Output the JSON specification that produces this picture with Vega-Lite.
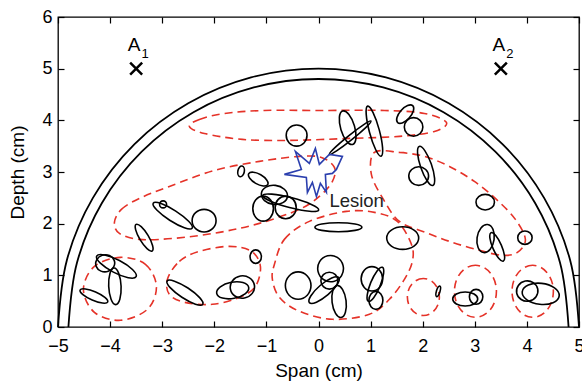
{
  "$schema": "https://vega.github.io/schema/vega-lite/v6.json",
  "width": 521,
  "height": 310,
  "autosize": {"type": "none"},
  "padding": {"left": 58, "top": 17, "right": 3, "bottom": 56},
  "background": "white",
  "config": {
    "view": {"stroke": "black", "strokeWidth": 1.3},
    "axis": {
      "grid": false, "domain": false, "tickColor": "black", "tickSize": -6, "tickWidth": 1.2,
      "labelFlush": false, "labelOverlap": false,
      "labelFont": "Liberation Sans", "labelFontSize": 18, "labelColor": "black",
      "titleFont": "Liberation Sans", "titleFontSize": 19, "titleFontWeight": "normal", "titleColor": "black"
    }
  },
  "datasets": {
    "arcs": [
      {"shape": "outer", "k": 1, "x": 5, "y": 0}, {"shape": "outer", "k": 2, "x": 4.83, "y": 1.294},
      {"shape": "outer", "k": 3, "x": 4.33, "y": 2.5}, {"shape": "outer", "k": 4, "x": 3.536, "y": 3.536},
      {"shape": "outer", "k": 5, "x": 2.5, "y": 4.33}, {"shape": "outer", "k": 6, "x": 1.294, "y": 4.83},
      {"shape": "outer", "k": 7, "x": 0, "y": 5}, {"shape": "outer", "k": 8, "x": -1.294, "y": 4.83},
      {"shape": "outer", "k": 9, "x": -2.5, "y": 4.33}, {"shape": "outer", "k": 10, "x": -3.536, "y": 3.536},
      {"shape": "outer", "k": 11, "x": -4.33, "y": 2.5}, {"shape": "outer", "k": 12, "x": -4.83, "y": 1.294},
      {"shape": "outer", "k": 13, "x": -5, "y": 0},
      {"shape": "inner", "k": 1, "x": 4.8, "y": 0}, {"shape": "inner", "k": 2, "x": 4.636, "y": 1.242},
      {"shape": "inner", "k": 3, "x": 4.157, "y": 2.4}, {"shape": "inner", "k": 4, "x": 3.394, "y": 3.394},
      {"shape": "inner", "k": 5, "x": 2.4, "y": 4.157}, {"shape": "inner", "k": 6, "x": 1.242, "y": 4.636},
      {"shape": "inner", "k": 7, "x": 0, "y": 4.8}, {"shape": "inner", "k": 8, "x": -1.242, "y": 4.636},
      {"shape": "inner", "k": 9, "x": -2.4, "y": 4.157}, {"shape": "inner", "k": 10, "x": -3.394, "y": 3.394},
      {"shape": "inner", "k": 11, "x": -4.157, "y": 2.4}, {"shape": "inner", "k": 12, "x": -4.636, "y": 1.242},
      {"shape": "inner", "k": 13, "x": -4.8, "y": 0}
    ],
    "regions": [
      {"shape": "r1", "k": 1, "x": -2.478, "y": 3.882}, {"shape": "r1", "k": 2, "x": -2.286, "y": 4.017},
      {"shape": "r1", "k": 3, "x": -1.806, "y": 4.133}, {"shape": "r1", "k": 4, "x": -1.038, "y": 4.191},
      {"shape": "r1", "k": 5, "x": 0.017, "y": 4.191}, {"shape": "r1", "k": 6, "x": 1.265, "y": 4.191},
      {"shape": "r1", "k": 7, "x": 2.033, "y": 4.133}, {"shape": "r1", "k": 8, "x": 2.455, "y": 3.959},
      {"shape": "r1", "k": 9, "x": 2.225, "y": 3.785}, {"shape": "r1", "k": 10, "x": 1.553, "y": 3.689},
      {"shape": "r1", "k": 11, "x": 0.593, "y": 3.65}, {"shape": "r1", "k": 12, "x": -0.559, "y": 3.611},
      {"shape": "r1", "k": 13, "x": -1.461, "y": 3.631}, {"shape": "r1", "k": 14, "x": -2.19, "y": 3.747},
      {"shape": "r2", "k": 1, "x": -3.917, "y": 2.025}, {"shape": "r2", "k": 2, "x": -3.783, "y": 2.277},
      {"shape": "r2", "k": 3, "x": -3.438, "y": 2.489}, {"shape": "r2", "k": 4, "x": -2.862, "y": 2.721},
      {"shape": "r2", "k": 5, "x": -1.998, "y": 3.031}, {"shape": "r2", "k": 6, "x": -1.134, "y": 3.205},
      {"shape": "r2", "k": 7, "x": -0.367, "y": 3.302}, {"shape": "r2", "k": 8, "x": 0.056, "y": 3.282},
      {"shape": "r2", "k": 9, "x": 0.305, "y": 3.089}, {"shape": "r2", "k": 10, "x": 0.267, "y": 2.818},
      {"shape": "r2", "k": 11, "x": 0.017, "y": 2.528}, {"shape": "r2", "k": 12, "x": -0.367, "y": 2.277},
      {"shape": "r2", "k": 13, "x": -1.134, "y": 2.006}, {"shape": "r2", "k": 14, "x": -1.902, "y": 1.832},
      {"shape": "r2", "k": 15, "x": -2.766, "y": 1.716}, {"shape": "r2", "k": 16, "x": -3.438, "y": 1.696},
      {"shape": "r2", "k": 17, "x": -3.821, "y": 1.812},
      {"shape": "r3", "k": 1, "x": 1.073, "y": 3.379}, {"shape": "r3", "k": 2, "x": 1.553, "y": 3.379},
      {"shape": "r3", "k": 3, "x": 2.033, "y": 3.302}, {"shape": "r3", "k": 4, "x": 2.512, "y": 3.108},
      {"shape": "r3", "k": 5, "x": 2.992, "y": 2.818}, {"shape": "r3", "k": 6, "x": 3.415, "y": 2.47},
      {"shape": "r3", "k": 7, "x": 3.779, "y": 2.083}, {"shape": "r3", "k": 8, "x": 3.971, "y": 1.696},
      {"shape": "r3", "k": 9, "x": 3.818, "y": 1.445}, {"shape": "r3", "k": 10, "x": 3.53, "y": 1.387},
      {"shape": "r3", "k": 11, "x": 3.088, "y": 1.484}, {"shape": "r3", "k": 12, "x": 2.57, "y": 1.638},
      {"shape": "r3", "k": 13, "x": 2.052, "y": 1.832}, {"shape": "r3", "k": 14, "x": 1.553, "y": 2.044},
      {"shape": "r3", "k": 15, "x": 1.246, "y": 2.47}, {"shape": "r3", "k": 16, "x": 1.015, "y": 2.954},
      {"shape": "r4", "k": 1, "x": -3.802, "y": 1.348}, {"shape": "r4", "k": 2, "x": -3.322, "y": 1.213},
      {"shape": "r4", "k": 3, "x": -3.111, "y": 0.787}, {"shape": "r4", "k": 4, "x": -3.284, "y": 0.342},
      {"shape": "r4", "k": 5, "x": -3.802, "y": 0.13}, {"shape": "r4", "k": 6, "x": -4.301, "y": 0.284},
      {"shape": "r4", "k": 7, "x": -4.512, "y": 0.729}, {"shape": "r4", "k": 8, "x": -4.301, "y": 1.174},
      {"shape": "r5", "k": 1, "x": -2.9, "y": 0.923}, {"shape": "r5", "k": 2, "x": -2.67, "y": 1.271},
      {"shape": "r5", "k": 3, "x": -2.286, "y": 1.464}, {"shape": "r5", "k": 4, "x": -1.71, "y": 1.561},
      {"shape": "r5", "k": 5, "x": -1.288, "y": 1.464}, {"shape": "r5", "k": 6, "x": -1.115, "y": 1.174},
      {"shape": "r5", "k": 7, "x": -1.211, "y": 0.787}, {"shape": "r5", "k": 8, "x": -1.518, "y": 0.574},
      {"shape": "r5", "k": 9, "x": -2.036, "y": 0.439}, {"shape": "r5", "k": 10, "x": -2.574, "y": 0.478},
      {"shape": "r5", "k": 11, "x": -2.862, "y": 0.632},
      {"shape": "r6", "k": 1, "x": -0.846, "y": 1.213}, {"shape": "r6", "k": 2, "x": -0.655, "y": 1.696},
      {"shape": "r6", "k": 3, "x": -0.175, "y": 2.044}, {"shape": "r6", "k": 4, "x": 0.536, "y": 2.238},
      {"shape": "r6", "k": 5, "x": 1.073, "y": 2.219}, {"shape": "r6", "k": 6, "x": 1.514, "y": 2.044},
      {"shape": "r6", "k": 7, "x": 1.783, "y": 1.6}, {"shape": "r6", "k": 8, "x": 1.802, "y": 1.271},
      {"shape": "r6", "k": 9, "x": 1.649, "y": 0.923}, {"shape": "r6", "k": 10, "x": 1.361, "y": 0.536},
      {"shape": "r6", "k": 11, "x": 0.977, "y": 0.246}, {"shape": "r6", "k": 12, "x": 0.267, "y": 0.149},
      {"shape": "r6", "k": 13, "x": -0.367, "y": 0.304}, {"shape": "r6", "k": 14, "x": -0.75, "y": 0.574},
      {"shape": "r6", "k": 15, "x": -0.885, "y": 0.923}
    ],
    "rings": [
      {"shape": "r7", "k": 1, "x": 2.32, "y": 0.58}, {"shape": "r7", "k": 2, "x": 2.013, "y": 0.938},
      {"shape": "r7", "k": 3, "x": 1.706, "y": 0.58}, {"shape": "r7", "k": 4, "x": 2.013, "y": 0.222},
      {"shape": "r8", "k": 1, "x": 3.415, "y": 0.691}, {"shape": "r8", "k": 2, "x": 3.012, "y": 1.194},
      {"shape": "r8", "k": 3, "x": 2.609, "y": 0.691}, {"shape": "r8", "k": 4, "x": 3.012, "y": 0.188},
      {"shape": "r9", "k": 1, "x": 4.508, "y": 0.691}, {"shape": "r9", "k": 2, "x": 4.111, "y": 1.194},
      {"shape": "r9", "k": 3, "x": 3.714, "y": 0.691}, {"shape": "r9", "k": 4, "x": 4.111, "y": 0.188}
    ],
    "cells": [
      {"shape": "c1", "k": 1, "x": -0.22, "y": 3.71}, {"shape": "c1", "k": 2, "x": -0.42, "y": 3.5}, {"shape": "c1", "k": 3, "x": -0.62, "y": 3.71}, {"shape": "c1", "k": 4, "x": -0.42, "y": 3.91},
      {"shape": "c2", "k": 1, "x": 0.656, "y": 3.534}, {"shape": "c2", "k": 2, "x": 0.689, "y": 3.896}, {"shape": "c2", "k": 3, "x": 0.464, "y": 4.18}, {"shape": "c2", "k": 4, "x": 0.431, "y": 3.818},
      {"shape": "c3", "k": 1, "x": 1.007, "y": 3.986}, {"shape": "c3", "k": 2, "x": 0.638, "y": 3.625}, {"shape": "c3", "k": 3, "x": 0.209, "y": 3.34}, {"shape": "c3", "k": 4, "x": 0.578, "y": 3.701},
      {"shape": "c4", "k": 1, "x": 1.202, "y": 3.307}, {"shape": "c4", "k": 2, "x": 1.166, "y": 3.816}, {"shape": "c4", "k": 3, "x": 0.944, "y": 4.275}, {"shape": "c4", "k": 4, "x": 0.98, "y": 3.766},
      {"shape": "c5", "k": 1, "x": 1.808, "y": 4.284}, {"shape": "c5", "k": 2, "x": 1.743, "y": 4.05}, {"shape": "c5", "k": 3, "x": 1.52, "y": 3.956}, {"shape": "c5", "k": 4, "x": 1.585, "y": 4.19},
      {"shape": "c6", "k": 1, "x": 2.003, "y": 3.872}, {"shape": "c6", "k": 2, "x": 1.825, "y": 4.052}, {"shape": "c6", "k": 3, "x": 1.647, "y": 3.872}, {"shape": "c6", "k": 4, "x": 1.825, "y": 3.692},
      {"shape": "c7", "k": 1, "x": 2.196, "y": 2.741}, {"shape": "c7", "k": 2, "x": 2.165, "y": 3.153}, {"shape": "c7", "k": 3, "x": 1.934, "y": 3.495}, {"shape": "c7", "k": 4, "x": 1.965, "y": 3.083},
      {"shape": "c8", "k": 1, "x": 2.113, "y": 2.921}, {"shape": "c8", "k": 2, "x": 1.923, "y": 3.101}, {"shape": "c8", "k": 3, "x": 1.733, "y": 2.921}, {"shape": "c8", "k": 4, "x": 1.923, "y": 2.741},
      {"shape": "c9", "k": 1, "x": -1.467, "y": 3.115}, {"shape": "c9", "k": 2, "x": -1.425, "y": 3.0}, {"shape": "c9", "k": 3, "x": -1.505, "y": 2.909}, {"shape": "c9", "k": 4, "x": -1.547, "y": 3.024},
      {"shape": "c10", "k": 1, "x": -0.975, "y": 2.757}, {"shape": "c10", "k": 2, "x": -1.205, "y": 2.78}, {"shape": "c10", "k": 3, "x": -1.339, "y": 2.969}, {"shape": "c10", "k": 4, "x": -1.109, "y": 2.946},
      {"shape": "c11", "k": 1, "x": -0.596, "y": 2.528}, {"shape": "c11", "k": 2, "x": -0.865, "y": 2.373}, {"shape": "c11", "k": 3, "x": -1.096, "y": 2.586}, {"shape": "c11", "k": 4, "x": -0.827, "y": 2.741},
      {"shape": "c12", "k": 1, "x": -1.063, "y": 2.05}, {"shape": "c12", "k": 2, "x": -0.865, "y": 2.292}, {"shape": "c12", "k": 3, "x": -1.063, "y": 2.534}, {"shape": "c12", "k": 4, "x": -1.261, "y": 2.292},
      {"shape": "c13", "k": 1, "x": -0.428, "y": 2.315}, {"shape": "c13", "k": 2, "x": -0.63, "y": 2.534}, {"shape": "c13", "k": 3, "x": -0.832, "y": 2.315}, {"shape": "c13", "k": 4, "x": -0.63, "y": 2.096},
      {"shape": "c14", "k": 1, "x": 0.003, "y": 2.265}, {"shape": "c14", "k": 2, "x": -0.558, "y": 2.312}, {"shape": "c14", "k": 3, "x": -1.071, "y": 2.547}, {"shape": "c14", "k": 4, "x": -0.51, "y": 2.5},
      {"shape": "c15", "k": 1, "x": 0.833, "y": 1.932}, {"shape": "c15", "k": 2, "x": 0.382, "y": 2.019}, {"shape": "c15", "k": 3, "x": -0.069, "y": 1.932}, {"shape": "c15", "k": 4, "x": 0.382, "y": 1.845},
      {"shape": "c16", "k": 1, "x": -2.424, "y": 1.913}, {"shape": "c16", "k": 2, "x": -2.856, "y": 2.066}, {"shape": "c16", "k": 3, "x": -3.172, "y": 2.397}, {"shape": "c16", "k": 4, "x": -2.74, "y": 2.244},
      {"shape": "c17", "k": 1, "x": -2.916, "y": 2.373}, {"shape": "c17", "k": 2, "x": -2.983, "y": 2.441}, {"shape": "c17", "k": 3, "x": -3.05, "y": 2.373}, {"shape": "c17", "k": 4, "x": -2.983, "y": 2.305},
      {"shape": "c18", "k": 1, "x": -1.966, "y": 2.058}, {"shape": "c18", "k": 2, "x": -2.196, "y": 2.277}, {"shape": "c18", "k": 3, "x": -2.426, "y": 2.058}, {"shape": "c18", "k": 4, "x": -2.196, "y": 1.839},
      {"shape": "c19", "k": 1, "x": -3.193, "y": 1.472}, {"shape": "c19", "k": 2, "x": -3.272, "y": 1.773}, {"shape": "c19", "k": 3, "x": -3.501, "y": 1.986}, {"shape": "c19", "k": 4, "x": -3.422, "y": 1.685},
      {"shape": "c20", "k": 1, "x": -3.501, "y": 0.975}, {"shape": "c20", "k": 2, "x": -3.937, "y": 1.062}, {"shape": "c20", "k": 3, "x": -4.257, "y": 1.373}, {"shape": "c20", "k": 4, "x": -3.821, "y": 1.286},
      {"shape": "c21", "k": 1, "x": -3.921, "y": 1.29}, {"shape": "c21", "k": 2, "x": -4.036, "y": 1.077}, {"shape": "c21", "k": 3, "x": -4.267, "y": 1.174}, {"shape": "c21", "k": 4, "x": -4.152, "y": 1.387},
      {"shape": "c22", "k": 1, "x": -3.893, "y": 0.433}, {"shape": "c22", "k": 2, "x": -3.789, "y": 0.787}, {"shape": "c22", "k": 3, "x": -3.923, "y": 1.141}, {"shape": "c22", "k": 4, "x": -4.027, "y": 0.787},
      {"shape": "c23", "k": 1, "x": -4.046, "y": 0.484}, {"shape": "c23", "k": 2, "x": -4.344, "y": 0.523}, {"shape": "c23", "k": 3, "x": -4.576, "y": 0.716}, {"shape": "c23", "k": 4, "x": -4.278, "y": 0.677},
      {"shape": "c24", "k": 1, "x": -2.222, "y": 0.439}, {"shape": "c24", "k": 2, "x": -2.622, "y": 0.576}, {"shape": "c24", "k": 3, "x": -2.906, "y": 0.891}, {"shape": "c24", "k": 4, "x": -2.506, "y": 0.754},
      {"shape": "c26", "k": 1, "x": -1.096, "y": 1.362}, {"shape": "c26", "k": 2, "x": -1.205, "y": 1.492}, {"shape": "c26", "k": 3, "x": -1.314, "y": 1.362}, {"shape": "c26", "k": 4, "x": -1.205, "y": 1.232},
      {"shape": "c27", "k": 1, "x": -1.34, "y": 0.768}, {"shape": "c27", "k": 2, "x": -1.618, "y": 0.555}, {"shape": "c27", "k": 3, "x": -1.954, "y": 0.652}, {"shape": "c27", "k": 4, "x": -1.676, "y": 0.865},
      {"shape": "c28", "k": 1, "x": -1.231, "y": 0.813}, {"shape": "c28", "k": 2, "x": -1.423, "y": 0.561}, {"shape": "c28", "k": 3, "x": -1.691, "y": 0.735}, {"shape": "c28", "k": 4, "x": -1.499, "y": 0.987},
      {"shape": "c29", "k": 1, "x": -0.144, "y": 0.801}, {"shape": "c29", "k": 2, "x": -0.39, "y": 1.066}, {"shape": "c29", "k": 3, "x": -0.636, "y": 0.801}, {"shape": "c29", "k": 4, "x": -0.39, "y": 0.536},
      {"shape": "c30", "k": 1, "x": 0.472, "y": 1.188}, {"shape": "c30", "k": 2, "x": 0.29, "y": 0.882}, {"shape": "c30", "k": 3, "x": -0.008, "y": 1.072}, {"shape": "c30", "k": 4, "x": 0.174, "y": 1.378},
      {"shape": "c31", "k": 1, "x": 0.389, "y": 0.956}, {"shape": "c31", "k": 2, "x": 0.182, "y": 0.625}, {"shape": "c31", "k": 3, "x": -0.175, "y": 0.472}, {"shape": "c31", "k": 4, "x": 0.032, "y": 0.803},
      {"shape": "c32", "k": 1, "x": 0.372, "y": 0.897}, {"shape": "c32", "k": 2, "x": 0.209, "y": 1.061}, {"shape": "c32", "k": 3, "x": 0.046, "y": 0.897}, {"shape": "c32", "k": 4, "x": 0.209, "y": 0.733},
      {"shape": "c33", "k": 1, "x": 0.433, "y": 0.184}, {"shape": "c33", "k": 2, "x": 0.529, "y": 0.51}, {"shape": "c33", "k": 3, "x": 0.357, "y": 0.802}, {"shape": "c33", "k": 4, "x": 0.261, "y": 0.476},
      {"shape": "c34", "k": 1, "x": 1.232, "y": 0.932}, {"shape": "c34", "k": 2, "x": 1.025, "y": 1.168}, {"shape": "c34", "k": 3, "x": 0.818, "y": 0.932}, {"shape": "c34", "k": 4, "x": 1.025, "y": 0.696},
      {"shape": "c35", "k": 1, "x": 1.226, "y": 1.155}, {"shape": "c35", "k": 2, "x": 1.18, "y": 0.789}, {"shape": "c35", "k": 3, "x": 0.958, "y": 0.497}, {"shape": "c35", "k": 4, "x": 1.004, "y": 0.863},
      {"shape": "c36", "k": 1, "x": 1.236, "y": 0.516}, {"shape": "c36", "k": 2, "x": 1.102, "y": 0.69}, {"shape": "c36", "k": 3, "x": 0.968, "y": 0.516}, {"shape": "c36", "k": 4, "x": 1.102, "y": 0.342},
      {"shape": "c37", "k": 1, "x": 1.923, "y": 1.721}, {"shape": "c37", "k": 2, "x": 1.616, "y": 1.94}, {"shape": "c37", "k": 3, "x": 1.309, "y": 1.721}, {"shape": "c37", "k": 4, "x": 1.616, "y": 1.502},
      {"shape": "c38", "k": 1, "x": 3.377, "y": 2.416}, {"shape": "c38", "k": 2, "x": 3.2, "y": 2.567}, {"shape": "c38", "k": 3, "x": 3.023, "y": 2.416}, {"shape": "c38", "k": 4, "x": 3.2, "y": 2.265},
      {"shape": "c39", "k": 1, "x": 3.169, "y": 1.441}, {"shape": "c39", "k": 2, "x": 3.37, "y": 1.693}, {"shape": "c39", "k": 3, "x": 3.245, "y": 1.983}, {"shape": "c39", "k": 4, "x": 3.044, "y": 1.731},
      {"shape": "c40", "k": 1, "x": 3.549, "y": 1.276}, {"shape": "c40", "k": 2, "x": 3.509, "y": 1.586}, {"shape": "c40", "k": 3, "x": 3.311, "y": 1.826}, {"shape": "c40", "k": 4, "x": 3.351, "y": 1.516},
      {"shape": "c41", "k": 1, "x": 4.1, "y": 1.729}, {"shape": "c41", "k": 2, "x": 3.962, "y": 1.859}, {"shape": "c41", "k": 3, "x": 3.824, "y": 1.729}, {"shape": "c41", "k": 4, "x": 3.962, "y": 1.599},
      {"shape": "c42", "k": 1, "x": 2.327, "y": 0.794}, {"shape": "c42", "k": 2, "x": 2.331, "y": 0.681}, {"shape": "c42", "k": 3, "x": 2.269, "y": 0.588}, {"shape": "c42", "k": 4, "x": 2.265, "y": 0.701},
      {"shape": "c43", "k": 1, "x": 3.056, "y": 0.542}, {"shape": "c43", "k": 2, "x": 2.816, "y": 0.677}, {"shape": "c43", "k": 3, "x": 2.576, "y": 0.542}, {"shape": "c43", "k": 4, "x": 2.816, "y": 0.407},
      {"shape": "c44", "k": 1, "x": 3.154, "y": 0.584}, {"shape": "c44", "k": 2, "x": 3.025, "y": 0.729}, {"shape": "c44", "k": 3, "x": 2.896, "y": 0.584}, {"shape": "c44", "k": 4, "x": 3.025, "y": 0.439},
      {"shape": "c45", "k": 1, "x": 4.208, "y": 0.735}, {"shape": "c45", "k": 2, "x": 4.044, "y": 0.503}, {"shape": "c45", "k": 3, "x": 3.804, "y": 0.657}, {"shape": "c45", "k": 4, "x": 3.968, "y": 0.889},
      {"shape": "c46", "k": 1, "x": 4.62, "y": 0.603}, {"shape": "c46", "k": 2, "x": 4.246, "y": 0.439}, {"shape": "c46", "k": 3, "x": 3.91, "y": 0.681}, {"shape": "c46", "k": 4, "x": 4.284, "y": 0.845}
    ],
    "lesion": [
      {"k": 1, "x": -0.655, "y": 2.954}, {"k": 2, "x": -0.328, "y": 3.05}, {"k": 3, "x": -0.443, "y": 3.398},
      {"k": 4, "x": -0.175, "y": 3.166}, {"k": 5, "x": -0.06, "y": 3.456}, {"k": 6, "x": 0.017, "y": 3.147},
      {"k": 7, "x": 0.209, "y": 3.34}, {"k": 8, "x": 0.459, "y": 3.302}, {"k": 9, "x": 0.344, "y": 3.05},
      {"k": 10, "x": 0.267, "y": 2.973}, {"k": 11, "x": 0.132, "y": 2.954}, {"k": 12, "x": 0.152, "y": 2.605},
      {"k": 13, "x": 0.036, "y": 2.779}, {"k": 14, "x": -0.04, "y": 2.528}, {"k": 15, "x": -0.117, "y": 2.799},
      {"k": 16, "x": -0.213, "y": 2.605}, {"k": 17, "x": -0.233, "y": 2.896}
    ],
    "sources": [
      {"x": -3.5, "y": 5, "name": "A", "sub": "1"},
      {"x": 3.5, "y": 5, "name": "A", "sub": "2"}
    ],
    "notes": [
      {"x": 0.209, "y": 2.32, "label": "Lesion"}
    ]
  },
  "resolve": {"axis": {"x": "independent", "y": "independent"}},
  "layer": [
    {
      "data": {"name": "arcs"},
      "mark": {"type": "line", "interpolate": "cardinal", "color": "black", "strokeWidth": 1.8},
      "encoding": {
        "x": {"field": "x", "type": "quantitative", "scale": {"domain": [-5, 5], "nice": false, "zero": false},
              "axis": {"orient": "bottom", "values": [-5, -4, -3, -2, -1, 0, 1, 2, 3, 4, 5], "title": "Span (cm)", "labelPadding": 16, "titlePadding": 6}},
        "y": {"field": "y", "type": "quantitative", "scale": {"domain": [0, 6], "nice": false, "zero": false},
              "axis": {"orient": "left", "values": [0, 1, 2, 3, 4, 5, 6], "title": "Depth (cm)", "labelPadding": 12, "titlePadding": 14}},
        "detail": {"field": "shape"},
        "order": {"field": "k", "type": "quantitative"}
      }
    },
    {
      "data": {"name": "regions"},
      "mark": {"type": "line", "interpolate": "cardinal-closed", "color": "#e53228", "strokeWidth": 1.6, "strokeDash": [8, 5]},
      "encoding": {
        "x": {"field": "x", "type": "quantitative", "axis": {"orient": "top", "values": [-5, -4, -3, -2, -1, 0, 1, 2, 3, 4, 5], "labels": false, "title": null}},
        "y": {"field": "y", "type": "quantitative", "axis": {"orient": "right", "values": [0, 1, 2, 3, 4, 5, 6], "labels": false, "title": null}},
        "detail": {"field": "shape"},
        "order": {"field": "k", "type": "quantitative"}
      }
    },
    {
      "data": {"name": "rings"},
      "mark": {"type": "line", "interpolate": "cardinal-closed", "tension": -0.657, "color": "#e53228", "strokeWidth": 1.6, "strokeDash": [8, 5]},
      "encoding": {
        "x": {"field": "x", "type": "quantitative", "axis": null},
        "y": {"field": "y", "type": "quantitative", "axis": null},
        "detail": {"field": "shape"},
        "order": {"field": "k", "type": "quantitative"}
      }
    },
    {
      "data": {"name": "cells"},
      "mark": {"type": "line", "interpolate": "cardinal-closed", "tension": -0.657, "color": "black", "strokeWidth": 1.6},
      "encoding": {
        "x": {"field": "x", "type": "quantitative", "axis": null},
        "y": {"field": "y", "type": "quantitative", "axis": null},
        "detail": {"field": "shape"},
        "order": {"field": "k", "type": "quantitative"}
      }
    },
    {
      "data": {"name": "lesion"},
      "mark": {"type": "line", "interpolate": "linear-closed", "color": "#2b3fae", "strokeWidth": 1.6, "strokeJoin": "miter"},
      "encoding": {
        "x": {"field": "x", "type": "quantitative", "axis": null},
        "y": {"field": "y", "type": "quantitative", "axis": null},
        "order": {"field": "k", "type": "quantitative"}
      }
    },
    {
      "data": {"name": "sources"},
      "mark": {"type": "point", "shape": "M-1,-1L1,1M-1,1L1,-1", "size": 144, "filled": false, "color": "black", "strokeWidth": 2.5, "opacity": 1},
      "encoding": {
        "x": {"field": "x", "type": "quantitative", "axis": null},
        "y": {"field": "y", "type": "quantitative", "axis": null}
      }
    },
    {
      "data": {"name": "sources"},
      "mark": {"type": "text", "font": "Liberation Sans", "fontSize": 19, "color": "black", "align": "center", "baseline": "alphabetic", "dx": -2, "dy": -18},
      "encoding": {
        "x": {"field": "x", "type": "quantitative", "axis": null},
        "y": {"field": "y", "type": "quantitative", "axis": null},
        "text": {"field": "name"}
      }
    },
    {
      "data": {"name": "sources"},
      "mark": {"type": "text", "font": "Liberation Sans", "fontSize": 13, "color": "black", "align": "center", "baseline": "alphabetic", "dx": 9, "dy": -11},
      "encoding": {
        "x": {"field": "x", "type": "quantitative", "axis": null},
        "y": {"field": "y", "type": "quantitative", "axis": null},
        "text": {"field": "sub"}
      }
    },
    {
      "data": {"name": "notes"},
      "mark": {"type": "text", "font": "Liberation Sans", "fontSize": 18.5, "color": "#222222", "align": "left", "baseline": "alphabetic"},
      "encoding": {
        "x": {"field": "x", "type": "quantitative", "axis": null},
        "y": {"field": "y", "type": "quantitative", "axis": null},
        "text": {"field": "label"}
      }
    }
  ]
}
